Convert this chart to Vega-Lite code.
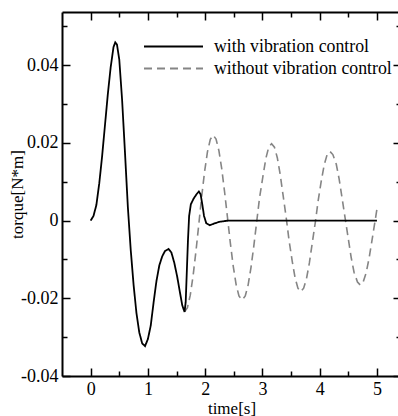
{
  "$schema": "https://vega.github.io/schema/vega-lite/v6.json",
  "autosize": "none",
  "width": 339,
  "height": 364,
  "padding": {"left": 62, "top": 12, "right": -3, "bottom": 40},
  "background": "white",
  "config": {
    "view": {"stroke": null},
    "axis": {
      "grid": false,
      "domainColor": "black",
      "domainWidth": 2,
      "tickColor": "black",
      "tickWidth": 1.5,
      "labelFont": "Liberation Serif",
      "labelFontSize": 18,
      "labelColor": "black",
      "titleFont": "Liberation Serif",
      "titleFontSize": 17,
      "titleFontWeight": "normal",
      "titleColor": "black"
    },
    "legend": {
      "labelFont": "Liberation Serif",
      "labelFontSize": 17.8,
      "labelColor": "black",
      "labelLimit": 400
    }
  },
  "datasets": {
    "with": [
      {"t": 0, "v": 0}, {"t": 0.05, "v": 0.0012}, {"t": 0.1, "v": 0.004}, {"t": 0.15, "v": 0.0095},
      {"t": 0.2, "v": 0.0165}, {"t": 0.25, "v": 0.0245}, {"t": 0.3, "v": 0.0325}, {"t": 0.35, "v": 0.0395},
      {"t": 0.4, "v": 0.0447}, {"t": 0.43, "v": 0.0459}, {"t": 0.46, "v": 0.0453}, {"t": 0.5, "v": 0.0415},
      {"t": 0.55, "v": 0.031}, {"t": 0.6, "v": 0.0175}, {"t": 0.65, "v": 0.0035}, {"t": 0.7, "v": -0.0075},
      {"t": 0.75, "v": -0.0165}, {"t": 0.8, "v": -0.0238}, {"t": 0.85, "v": -0.0288}, {"t": 0.9, "v": -0.0316},
      {"t": 0.95, "v": -0.0323}, {"t": 1.0, "v": -0.0305}, {"t": 1.05, "v": -0.027}, {"t": 1.1, "v": -0.021},
      {"t": 1.15, "v": -0.0155}, {"t": 1.2, "v": -0.0115}, {"t": 1.25, "v": -0.0092}, {"t": 1.3, "v": -0.0078},
      {"t": 1.36, "v": -0.0073}, {"t": 1.41, "v": -0.0082}, {"t": 1.46, "v": -0.0108}, {"t": 1.51, "v": -0.0143},
      {"t": 1.56, "v": -0.0185}, {"t": 1.6, "v": -0.0218}, {"t": 1.64, "v": -0.0235}, {"t": 1.66, "v": -0.021},
      {"t": 1.68, "v": -0.013}, {"t": 1.7, "v": -0.005}, {"t": 1.72, "v": 0.0012}, {"t": 1.75, "v": 0.0042},
      {"t": 1.8, "v": 0.0057}, {"t": 1.85, "v": 0.0068}, {"t": 1.89, "v": 0.0075}, {"t": 1.92, "v": 0.0068},
      {"t": 1.95, "v": 0.0042}, {"t": 1.98, "v": 0.0012}, {"t": 2.02, "v": -0.0007}, {"t": 2.08, "v": -0.0012},
      {"t": 2.15, "v": -0.0008}, {"t": 2.25, "v": -0.0003}, {"t": 2.4, "v": 0}, {"t": 5, "v": 0}
    ],
    "without": [
      {"t": 1.64, "v": -0.0235}, {"t": 1.69, "v": -0.0224}, {"t": 1.74, "v": -0.0192}, {"t": 1.79, "v": -0.0141},
      {"t": 1.84, "v": -0.0078}, {"t": 1.89, "v": -0.0008}, {"t": 1.94, "v": 0.0063}, {"t": 1.99, "v": 0.0126},
      {"t": 2.04, "v": 0.0177}, {"t": 2.09, "v": 0.0209}, {"t": 2.14, "v": 0.022}, {"t": 2.19, "v": 0.021},
      {"t": 2.24, "v": 0.018}, {"t": 2.29, "v": 0.0133}, {"t": 2.34, "v": 0.0073}, {"t": 2.39, "v": 0.0008},
      {"t": 2.44, "v": -0.0058}, {"t": 2.49, "v": -0.0117}, {"t": 2.54, "v": -0.0164}, {"t": 2.59, "v": -0.0194},
      {"t": 2.645, "v": -0.0204}, {"t": 2.7, "v": -0.0194}, {"t": 2.75, "v": -0.0166}, {"t": 2.8, "v": -0.0121},
      {"t": 2.85, "v": -0.0065}, {"t": 2.9, "v": -0.0003}, {"t": 2.95, "v": 0.0059}, {"t": 3.01, "v": 0.0115},
      {"t": 3.06, "v": 0.016}, {"t": 3.11, "v": 0.0189}, {"t": 3.16, "v": 0.0198}, {"t": 3.21, "v": 0.0189},
      {"t": 3.26, "v": 0.0162}, {"t": 3.31, "v": 0.0119}, {"t": 3.36, "v": 0.0066}, {"t": 3.415, "v": 0.0008},
      {"t": 3.465, "v": -0.0051}, {"t": 3.52, "v": -0.0104}, {"t": 3.57, "v": -0.0147}, {"t": 3.62, "v": -0.0174},
      {"t": 3.67, "v": -0.0183}, {"t": 3.72, "v": -0.0174}, {"t": 3.77, "v": -0.0149}, {"t": 3.82, "v": -0.0109},
      {"t": 3.87, "v": -0.0058}, {"t": 3.925, "v": -0.0003}, {"t": 3.975, "v": 0.0053}, {"t": 4.03, "v": 0.0104},
      {"t": 4.08, "v": 0.0144}, {"t": 4.13, "v": 0.017}, {"t": 4.18, "v": 0.0178}, {"t": 4.23, "v": 0.017},
      {"t": 4.29, "v": 0.0145}, {"t": 4.34, "v": 0.0107}, {"t": 4.39, "v": 0.0059}, {"t": 4.445, "v": 0.0006},
      {"t": 4.5, "v": -0.0047}, {"t": 4.55, "v": -0.0095}, {"t": 4.6, "v": -0.0133}, {"t": 4.66, "v": -0.0158},
      {"t": 4.71, "v": -0.0166}, {"t": 4.76, "v": -0.0158}, {"t": 4.81, "v": -0.0135}, {"t": 4.86, "v": -0.0099},
      {"t": 4.91, "v": -0.0054}, {"t": 4.965, "v": -0.0003}, {"t": 5.0, "v": 0.003}
    ]
  },
  "resolve": {"axis": {"x": "independent", "y": "independent"}},
  "layer": [
    {
      "data": {"name": "without"},
      "transform": [{"calculate": "'without vibration control'", "as": "s"}],
      "mark": {"type": "line", "strokeWidth": 1.6, "clip": true},
      "encoding": {
        "x": {
          "field": "t", "type": "quantitative",
          "scale": {"domain": [-0.5, 5.42], "nice": false, "zero": false},
          "axis": {
            "orient": "top", "title": null, "labels": false,
            "values": [0, 0.5, 1, 1.5, 2, 2.5, 3, 3.5, 4, 4.5, 5],
            "tickSize": {"condition": {"test": "datum.value % 1 !== 0", "value": -5}, "value": -8}
          }
        },
        "y": {
          "field": "v", "type": "quantitative",
          "scale": {"domain": [-0.04, 0.0537], "nice": false, "zero": false},
          "axis": {
            "orient": "right", "title": null, "labels": false,
            "values": [-0.04, -0.03, -0.02, -0.01, 0, 0.01, 0.02, 0.03, 0.04, 0.05],
            "tickSize": {"condition": {"test": "abs(round(datum.value * 100)) % 2 === 1", "value": -5}, "value": -8}
          }
        },
        "color": {
          "field": "s", "type": "nominal",
          "scale": {"domain": ["with vibration control", "without vibration control"], "range": ["black", "#858585"]},
          "legend": {
            "title": null, "orient": "none", "legendX": 99, "legendY": 22,
            "symbolType": "M-2.565,0H2.565", "symbolSize": 529, "symbolStrokeWidth": 1.8,
            "labelOffset": 28, "rowPadding": 0, "padding": 0
          }
        },
        "strokeDash": {
          "field": "s", "type": "nominal",
          "scale": {"domain": ["with vibration control", "without vibration control"], "range": [[1, 0], [8, 5]]},
          "legend": {
            "title": null, "orient": "none", "legendX": 99, "legendY": 22,
            "symbolType": "M-2.565,0H2.565", "symbolSize": 529, "symbolStrokeWidth": 1.8,
            "labelOffset": 28, "rowPadding": 0, "padding": 0
          }
        }
      }
    },
    {
      "data": {"name": "with"},
      "transform": [{"calculate": "'with vibration control'", "as": "s"}],
      "mark": {"type": "line", "strokeWidth": 1.8, "clip": true},
      "encoding": {
        "x": {
          "field": "t", "type": "quantitative",
          "scale": {"domain": [-0.5, 5.42], "nice": false, "zero": false},
          "axis": {
            "orient": "bottom", "title": "time[s]",
            "values": [0, 0.5, 1, 1.5, 2, 2.5, 3, 3.5, 4, 4.5, 5],
            "tickSize": {"condition": {"test": "datum.value % 1 !== 0", "value": -5}, "value": -8},
            "labelExpr": "datum.value % 1 !== 0 ? '' : format(datum.value, 'd')",
            "labelFontSize": 18,
            "labelPadding": 12, "labelFlush": false, "titlePadding": 2
          }
        },
        "y": {
          "field": "v", "type": "quantitative",
          "scale": {"domain": [-0.04, 0.0537], "nice": false, "zero": false},
          "axis": {
            "orient": "left", "title": "torque[N*m]",
            "values": [-0.04, -0.03, -0.02, -0.01, 0, 0.01, 0.02, 0.03, 0.04, 0.05],
            "tickSize": {"condition": {"test": "abs(round(datum.value * 100)) % 2 === 1", "value": -5}, "value": -8},
            "labelExpr": "abs(round(datum.value * 100)) % 2 === 1 ? '' : (round(datum.value * 100) === 0 ? '0' : ((datum.value < 0 ? '-' : '') + format(abs(datum.value), '.2f')))",
            "labelFontSize": 18,
            "labelPadding": 12, "labelFlush": false, "titlePadding": -6
          }
        },
        "color": {"field": "s", "type": "nominal", "scale": {"domain": ["with vibration control", "without vibration control"], "range": ["black", "#858585"]}},
        "strokeDash": {"field": "s", "type": "nominal", "scale": {"domain": ["with vibration control", "without vibration control"], "range": [[1, 0], [8, 5]]}}
      }
    }
  ]
}
